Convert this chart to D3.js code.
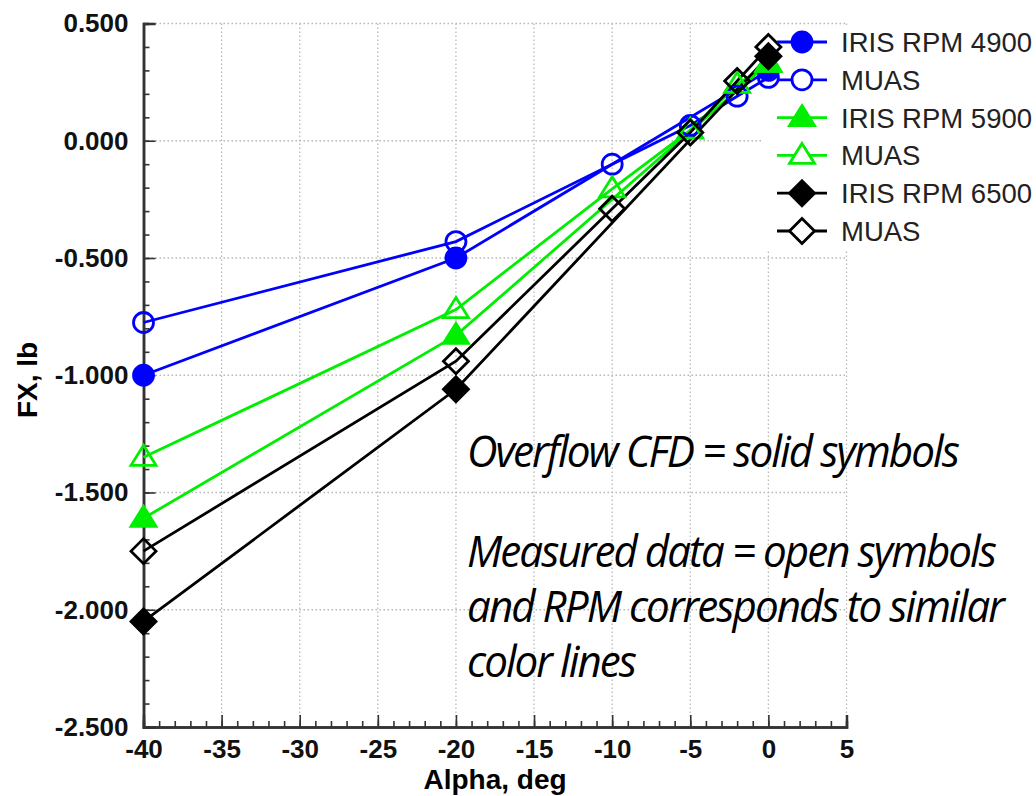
<!DOCTYPE html>
<html>
<head>
<meta charset="utf-8">
<script src="https://cdn.jsdelivr.net/npm/d3@7"></script>
<style>
  body { margin: 0; background: #fff; }
</style>
</head>
<body>
<div id="vis"></div>
<script>
// angle of attack values (deg)
const alphaCFD = [-40, -20, 0]
const alphaMUAS = [-40, -20, -10, -5, -2, 0]

// FX, lb
const iris4900 = [-1.00, -0.50, 0.30]
const muas4900 = [-0.775, -0.43, -0.10, 0.065, 0.19, 0.27]
const iris5900 = [-1.61, -0.83, 0.33]
const muas5900 = [-1.35, -0.72, -0.205, 0.045, 0.24, 0.33]
const iris6500 = [-2.05, -1.06, 0.36]
const muas6500 = [-1.75, -0.94, -0.29, 0.035, 0.255, 0.40]

const xTicks = [-40, -35, -30, -25, -20, -15, -10, -5, 0, 5]
const yTicks = [-2.5, -2.0, -1.5, -1.0, -0.5, 0.0, 0.5]

const legendLabels = ["IRIS RPM 4900", "MUAS", "IRIS RPM 5900", "MUAS", "IRIS RPM 6500", "MUAS"]

const notes = [
  "Overflow CFD = solid symbols",
  "Measured data = open symbols",
  "and RPM corresponds to similar",
  "color lines"
]

var series = [
  { x: alphaCFD, y: iris4900, color: "#0000ff", shape: "circle", filled: true },
  { x: alphaMUAS, y: muas4900, color: "#0000ff", shape: "circle", filled: false },
  { x: alphaCFD, y: iris5900, color: "#00ee00", shape: "triangle", filled: true },
  { x: alphaMUAS, y: muas5900, color: "#00ee00", shape: "triangle", filled: false },
  { x: alphaCFD, y: iris6500, color: "#000000", shape: "diamond", filled: true },
  { x: alphaMUAS, y: muas6500, color: "#000000", shape: "diamond", filled: false }
];

var width = 1036, height = 796;

var svg = d3.select("#vis")
  .append("svg")
  .attr("width", width)
  .attr("height", height)
  .style("font-family", "'Liberation Sans', Arial, sans-serif");

var x = d3.scaleLinear().domain([-40, 5]).range([143.5, 846.5]);
var y = d3.scaleLinear().domain([-2.5, 0.5]).range([727, 23.5]);

// dotted grid
var grid = svg.append("g")
  .attr("stroke", "#b8b8b8")
  .attr("stroke-width", 1.3)
  .attr("stroke-dasharray", "1.5,2.5");
grid.selectAll(".gx")
  .data(xTicks.slice(1))
  .enter().append("line")
    .attr("x1", d => x(d)).attr("x2", d => x(d))
    .attr("y1", y(0.5)).attr("y2", y(-2.5));
grid.selectAll(".gy")
  .data(yTicks.slice(1))
  .enter().append("line")
    .attr("x1", x(-40)).attr("x2", x(5))
    .attr("y1", d => y(d)).attr("y2", d => y(d));

// legend background hides grid behind it
svg.append("rect")
  .attr("x", 762).attr("y", 27)
  .attr("width", width - 762).attr("height", 222)
  .attr("fill", "#fff");

// axes with inward ticks
var yAxis = svg.append("g")
  .attr("transform", "translate(" + x(-40) + ",0)")
  .call(d3.axisLeft(y).tickValues(yTicks).tickSize(-12).tickPadding(15).tickFormat(d => d.toFixed(3)));
var yMinor = svg.append("g")
  .attr("transform", "translate(" + x(-40) + ",0)")
  .call(d3.axisLeft(y).tickValues(d3.range(-25, 5).map(d => d / 10)).tickSize(-6).tickFormat(""));

var xAxis = svg.append("g")
  .attr("transform", "translate(0," + y(-2.5) + ")")
  .call(d3.axisBottom(x).tickValues(xTicks).tickSize(-12).tickPadding(13).tickFormat(d => String(d)));
var xMinor = svg.append("g")
  .attr("transform", "translate(0," + y(-2.5) + ")")
  .call(d3.axisBottom(x).tickValues(d3.range(-40, 6)).tickSize(-6).tickFormat(""));

[yAxis, yMinor, xAxis, xMinor].forEach(g => {
  g.select(".domain").attr("stroke", "#333").attr("stroke-width", 2.5);
  g.selectAll(".tick line").attr("stroke", "#333").attr("stroke-width", 1.6);
  g.selectAll("text")
    .attr("fill", "#111")
    .style("font-family", "'Liberation Sans', Arial, sans-serif")
    .style("font-size", "26px")
    .style("font-weight", "bold");
});

// axis titles
svg.append("text")
  .attr("x", x(-17.5)).attr("y", 789)
  .attr("text-anchor", "middle")
  .style("font-size", "28px").style("font-weight", "bold")
  .text("Alpha, deg");
svg.append("text")
  .attr("transform", "translate(37,380) rotate(-90)")
  .attr("text-anchor", "middle")
  .style("font-size", "28px").style("font-weight", "bold")
  .text("FX, lb");

function markerPath(shape) {
  if (shape == "triangle") return "M0,-12L12.5,8L-12.5,8Z";
  if (shape == "diamond") return "M0,-12.5L12.5,0L0,12.5L-12.5,0Z";
  return d3.symbol(d3.symbolCircle, Math.PI * 10 * 10)();
}

var line = d3.line().x(d => x(d[0])).y(d => y(d[1]));

var plot = svg.append("g");
series.forEach(s => {
  var pts = s.x.map((v, i) => [v, s.y[i]]);
  plot.append("path")
    .datum(pts)
    .attr("d", line)
    .attr("fill", "none")
    .attr("stroke", s.color)
    .attr("stroke-width", 2.8);
});
series.forEach(s => {
  var pts = s.x.map((v, i) => [v, s.y[i]]);
  plot.append("g").selectAll("path")
    .data(pts)
    .enter().append("path")
      .attr("transform", d => "translate(" + x(d[0]) + "," + y(d[1]) + ")")
      .attr("d", markerPath(s.shape))
      .attr("fill", s.filled ? s.color : "none")
      .attr("stroke", s.color)
      .attr("stroke-width", 2.8);
});

// legend
var legend = svg.append("g");
var entry = legend.selectAll("g")
  .data(series)
  .enter().append("g")
    .attr("transform", (d, i) => "translate(0," + (42 + i * 37.8) + ")");
entry.append("line")
  .attr("x1", 777).attr("x2", 827)
  .attr("stroke", d => d.color)
  .attr("stroke-width", 2.8);
entry.append("path")
  .attr("transform", "translate(802,0)")
  .attr("d", d => markerPath(d.shape))
  .attr("fill", d => d.filled ? d.color : "#fff")
  .attr("stroke", d => d.color)
  .attr("stroke-width", 2.8);
entry.append("text")
  .attr("x", 841).attr("y", 10)
  .attr("fill", "#222")
  .style("font-size", "27.5px")
  .text((d, i) => legendLabels[i]);

// note text
var noteY = [467, 567, 622, 677];
var noteW = [491, 528, 536, 168];
svg.append("g").selectAll("text")
  .data(notes)
  .enter().append("text")
    .attr("x", 467)
    .attr("y", (d, i) => noteY[i])
    .attr("textLength", (d, i) => noteW[i])
    .attr("lengthAdjust", "spacingAndGlyphs")
    .style("font-family", "'Open Sans', sans-serif")
    .style("font-style", "italic")
    .style("font-size", "43px")
    .style("letter-spacing", "-2px")
    .text(d => d);
</script>
</body>
</html>
